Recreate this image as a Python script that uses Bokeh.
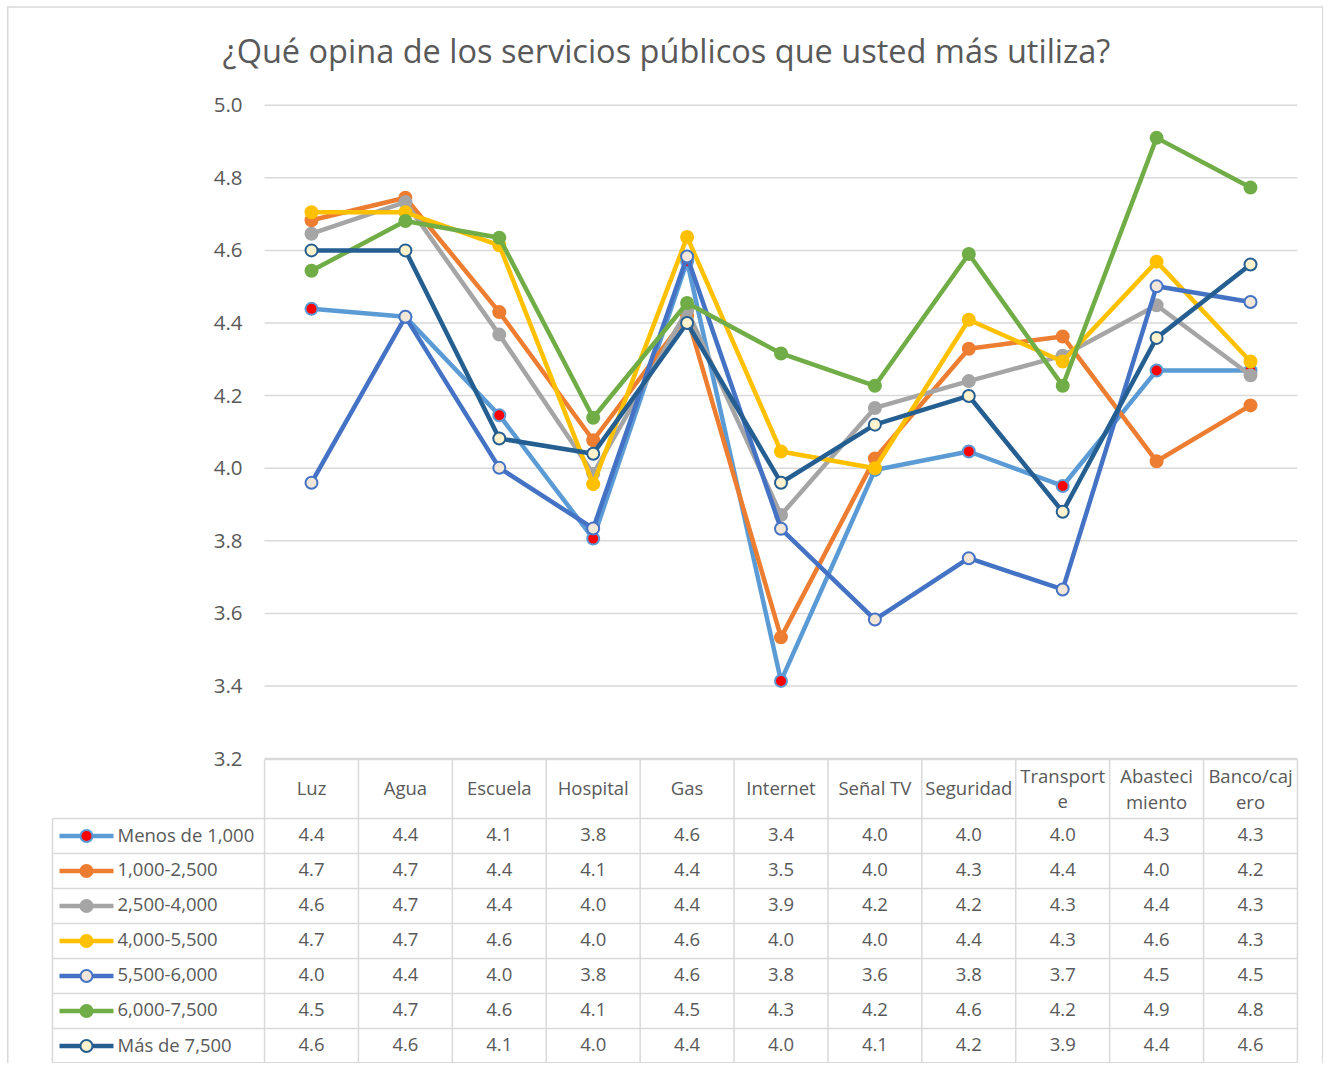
from bokeh.plotting import figure
from bokeh.models import Range1d
from bokeh.embed import file_html
from bokeh.resources import INLINE
from bokeh.core.properties import value

# ---------------- data ----------------
title = "¿Qué opina de los servicios públicos que usted más utiliza?"
categories = ["Luz", "Agua", "Escuela", "Hospital", "Gas", "Internet", "Señal TV",
              "Seguridad", "Transporte", "Abastecimiento", "Banco/cajero"]
header_lines = [["Luz"], ["Agua"], ["Escuela"], ["Hospital"], ["Gas"], ["Internet"],
                ["Señal TV"], ["Seguridad"], ["Transport", "e"], ["Abasteci", "miento"],
                ["Banco/caj", "ero"]]
series_names = ["Menos de 1,000", "1,000-2,500", "2,500-4,000", "4,000-5,500",
                "5,500-6,000", "6,000-7,500", "Más de 7,500"]

menos_1000 = [4.439, 4.417, 4.146, 3.806, 4.57, 3.414, 3.995, 4.046, 3.951, 4.269, 4.269]
s_1000_2500 = [4.683, 4.745, 4.430, 4.077, 4.42, 3.534, 4.027, 4.329, 4.363, 4.019, 4.173]
s_2500_4000 = [4.646, 4.733, 4.368, 3.985, 4.435, 3.871, 4.166, 4.240, 4.310, 4.449, 4.256]
s_4000_5500 = [4.705, 4.705, 4.614, 3.956, 4.637, 4.046, 4.000, 4.409, 4.294, 4.569, 4.294]
s_5500_6000 = [3.960, 4.417, 4.001, 3.834, 4.583, 3.833, 3.583, 3.752, 3.666, 4.501, 4.458]
s_6000_7500 = [4.544, 4.681, 4.635, 4.139, 4.455, 4.316, 4.227, 4.590, 4.227, 4.910, 4.773]
mas_7500 = [4.600, 4.600, 4.082, 4.040, 4.400, 3.960, 4.120, 4.199, 3.880, 4.359, 4.561]
series_values = [menos_1000, s_1000_2500, s_2500_4000, s_4000_5500,
                 s_5500_6000, s_6000_7500, mas_7500]

y_ticks = [3.2, 3.4, 3.6, 3.8, 4.0, 4.2, 4.4, 4.6, 4.8, 5.0]

# ---------------- styles ----------------
styles = [
    dict(line="#5B9BD5", fill="#FF0000", edge="#5B9BD5"),
    dict(line="#ED7D31", fill="#ED7D31", edge="#ED7D31"),
    dict(line="#A5A5A5", fill="#A5A5A5", edge="#A5A5A5"),
    dict(line="#FFC000", fill="#FFC000", edge="#FFC000"),
    dict(line="#4472C4", fill="#F2E6D8", edge="#4472C4"),
    dict(line="#70AD47", fill="#70AD47", edge="#70AD47"),
    dict(line="#255E91", fill="#FFF2CC", edge="#255E91"),
]
FONT = value("Open Sans")
TXT = "#595959"
GRID = "#D9D9D9"
FS = "18.5px"
FS_TICK = "20.5px"

W, H = 1323, 1063
x0, dx = 311.0, 93.9        # pixel x of first category, spacing
yt, ppu = 104.7, 363.0      # pixel y of 5.0, pixels per unit

p = figure(width=W, height=H,
           x_range=Range1d((0 - x0) / dx, (W - x0) / dx),
           y_range=Range1d(5 - (H - yt) / ppu, 5 + yt / ppu),
           output_backend="svg", toolbar_location=None,
           x_axis_type=None, y_axis_type=None, min_border=0,
           outline_line_color=None, background_fill_color="white",
           border_fill_color="white")
p.extra_x_ranges = {"px": Range1d(0, W)}
p.extra_y_ranges = {"py": Range1d(H, 0)}

idx = list(range(len(categories)))
n = len(categories)

# outer chart border (top, left, right)
p.segment(x0=[7, 7.25, 1322.2], y0=[6.5, 6, 6], x1=[1322.2, 7.25, 1322.2], y1=[6.5, H, H],
          x_range_name="px", y_range_name="py", line_color=GRID, line_width=1.5)

# title
p.text(x=[666], y=[50], text=[title], x_range_name="px", y_range_name="py",
       text_font=FONT, text_font_size="32.5px", text_color=TXT,
       text_align="center", text_baseline="middle")

# gridlines
p.segment(x0=[-0.5] * len(y_ticks), x1=[n - 0.5] * len(y_ticks), y0=y_ticks, y1=y_ticks,
          line_color=GRID, line_width=1.5)
# y tick labels
p.text(x=[242] * len(y_ticks), y=y_ticks, text=[f"{t:.1f}" for t in y_ticks],
       x_range_name="px", text_font=FONT, text_font_size=FS_TICK, text_color=TXT,
       text_align="right", text_baseline="middle")

# series
for vals, st in zip(series_values, styles):
    p.line(x=idx, y=vals, line_color=st["line"], line_width=4.5,
           line_join="round", line_cap="round")
    p.scatter(x=idx, y=vals, size=12, fill_color=st["fill"], line_color=st["edge"],
              line_width=2)

# ---------------- data table ----------------
top, head_bot, row_h = 759.0, 818.0, 35.0
nrows = len(series_names)
bottom = min(head_bot + row_h * nrows, H - 0.8)
left = 52.0
# horizontal lines
p.segment(x0=[-0.5], x1=[n - 0.5], y0=[top], y1=[top], y_range_name="py",
          line_color=GRID, line_width=1.5)
hy = [min(head_bot + row_h * k, H - 0.8) for k in range(nrows + 1)]
p.segment(x0=[left] * len(hy), x1=[x0 + dx * (n - 0.5)] * len(hy), y0=hy, y1=hy,
          x_range_name="px", y_range_name="py", line_color=GRID, line_width=1.5)
# vertical lines
vx = [k - 0.5 for k in range(n + 1)]
p.segment(x0=vx, x1=vx, y0=[top] * len(vx), y1=[bottom] * len(vx), y_range_name="py",
          line_color=GRID, line_width=1.5)
p.segment(x0=[left], x1=[left], y0=[head_bot], y1=[bottom], x_range_name="px",
          y_range_name="py", line_color=GRID, line_width=1.5)

# header
for c, lines in enumerate(header_lines):
    ys = [787.0] if len(lines) == 1 else [774.5, 800.5]
    p.text(x=[c] * len(lines), y=ys, text=lines, y_range_name="py",
           text_font=FONT, text_font_size=FS, text_color=TXT,
           text_align="center", text_baseline="middle")

# rows
for r, (name, vals, st) in enumerate(zip(series_names, series_values, styles)):
    yc = head_bot + row_h * r + row_h / 2
    yt_txt = yc - 1.5
    p.text(x=idx, y=[yt_txt] * n, text=[f"{v:.1f}" for v in vals], y_range_name="py",
           text_font=FONT, text_font_size=FS, text_color=TXT,
           text_align="center", text_baseline="middle")
    p.segment(x0=[59], x1=[113], y0=[yc], y1=[yc], x_range_name="px", y_range_name="py",
              line_color=st["line"], line_width=4.5)
    p.scatter(x=[86], y=[yc], x_range_name="px", y_range_name="py", size=12,
              fill_color=st["fill"], line_color=st["edge"], line_width=2)
    p.text(x=[117], y=[yt_txt], text=[name], x_range_name="px", y_range_name="py",
           text_font=FONT, text_font_size=FS, text_color=TXT,
           text_align="left", text_baseline="middle")

open("out.html", "w").write(file_html(p, INLINE))
